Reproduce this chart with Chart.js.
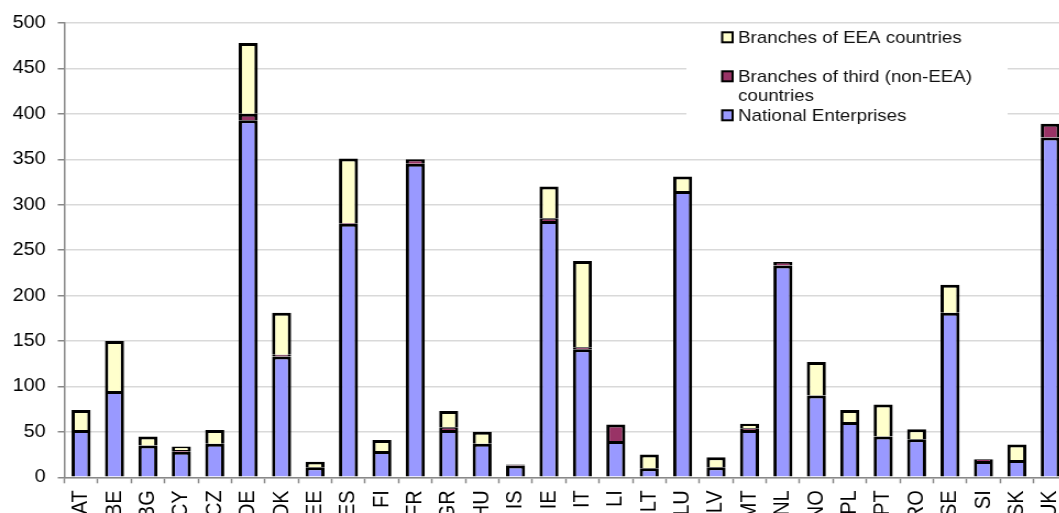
<!DOCTYPE html>
<html>
<head>
<meta charset="utf-8">
<script src="https://cdn.jsdelivr.net/npm/chart.js@4"></script>
<style>
  html, body { margin: 0; padding: 0; background: #fff; overflow: hidden; }
  #wrap {
    position: relative;
    width: 970px;
    height: 540px;
    transform: scaleX(1.1);
    transform-origin: 0 0;
  }
</style>
</head>
<body>
<div id="wrap"><canvas id="chart"></canvas></div>
<script>
const countries = ['AT', 'BE', 'BG', 'CY', 'CZ', 'DE', 'DK', 'EE', 'ES', 'FI',
  'FR', 'GR', 'HU', 'IS', 'IE', 'IT', 'LI', 'LT', 'LU', 'LV',
  'MT', 'NL', 'NO', 'PL', 'PT', 'RO', 'SE', 'SI', 'SK', 'UK'];

const national = [52, 95, 35, 28, 37, 393, 133, 11, 279, 29,
  345, 52, 37, 13, 282, 141, 40, 10, 315, 11,
  52, 233, 90, 61, 45, 42, 181, 18, 19, 374];

const thirdCountry = [0, 0, 0, 2, 0, 7, 2, 0, 1, 0,
  5, 3, 0, 1, 3, 2, 18, 0, 0, 0,
  2, 4, 0, 0, 0, 0, 0, 2, 0, 15];

const eeaBranches = [22, 55, 10, 4, 15, 78, 46, 6, 71, 12,
  0, 18, 13, 0, 35, 95, 0, 15, 16, 11,
  5, 0, 37, 13, 35, 11, 31, 0, 17, 0];

const yTicks = { min: 0, max: 500, step: 50 };

const FONT = '"Liberation Sans", Arial, sans-serif';
Chart.defaults.font.family = FONT;

// legend drawn inside the plot, on a white box that hides the grid behind it
const legendBox = {
  id: 'legendBox',
  afterDraw(chart) {
    const ctx = chart.ctx;
    ctx.save();
    ctx.fillStyle = '#fff';
    ctx.fillRect(624, 28, 292, 98);
    ctx.font = '17px ' + FONT;
    ctx.textBaseline = 'alphabetic';
    const maxWidth = 245;
    const items = chart.data.datasets.slice().reverse();
    items.forEach((ds, i) => {
      const base = 43.3 + i * 39;
      // simple word wrap
      const words = ds.label.split(' ');
      const lines = [];
      let line = '';
      words.forEach(w => {
        const test = line ? line + ' ' + w : w;
        if (ctx.measureText(test).width > maxWidth && line) {
          lines.push(line);
          line = w;
        } else {
          line = test;
        }
      });
      lines.push(line);

      ctx.fillStyle = ds.backgroundColor;
      ctx.fillRect(656.5, base - 11, 9.5, 10);
      ctx.strokeStyle = '#000';
      ctx.lineWidth = 2;
      ctx.strokeRect(656.5, base - 11, 9.5, 10);

      ctx.fillStyle = '#111';
      lines.forEach((l, j) => ctx.fillText(l, 671, base + j * 18.5));
    });
    ctx.restore();
  }
};

const barStyle = {
  borderColor: '#000',
  borderWidth: 3,
  borderSkipped: 'start',
  inflateAmount: 0,
  barPercentage: 0.57,
  categoryPercentage: 1
};

new Chart(document.getElementById('chart'), {
  type: 'bar',
  data: {
    labels: countries,
    datasets: [
      { ...barStyle, label: 'National Enterprises', data: national, backgroundColor: '#9999ff' },
      { ...barStyle, label: 'Branches of third (non-EEA) countries', data: thirdCountry, backgroundColor: '#993366' },
      { ...barStyle, label: 'Branches of EEA countries', data: eeaBranches, backgroundColor: '#ffffcc' }
    ]
  },
  options: {
    responsive: true,
    maintainAspectRatio: false,
    animation: false,
    layout: { padding: { top: 23, right: 0, bottom: 0, left: 0 } },
    plugins: {
      legend: { display: false },
      tooltip: { enabled: false }
    },
    scales: {
      x: {
        stacked: true,
        grid: { drawOnChartArea: false, tickLength: 6, tickColor: '#888', tickWidth: 1.5 },
        border: { color: '#888', width: 1.5 },
        ticks: {
          color: '#000',
          font: { size: 20 },
          minRotation: 90,
          maxRotation: 90,
          padding: 7,
          autoSkip: false
        },
        afterFit(s) {
          s.height = 62.7;
          s.paddingLeft = 0;
          s.paddingRight = 0;
        }
      },
      y: {
        stacked: true,
        min: yTicks.min,
        max: yTicks.max,
        ticks: { stepSize: yTicks.step, color: '#000', font: { size: 18 }, padding: 11 },
        grid: { color: '#d9d9d9', lineWidth: 1.5, tickLength: 6, tickColor: '#888', tickWidth: 1.5 },
        border: { color: '#888', width: 1.5 },
        afterFit(s) {
          s.width = 58.5;
        }
      }
    }
  },
  plugins: [legendBox]
});
</script>
</body>
</html>
